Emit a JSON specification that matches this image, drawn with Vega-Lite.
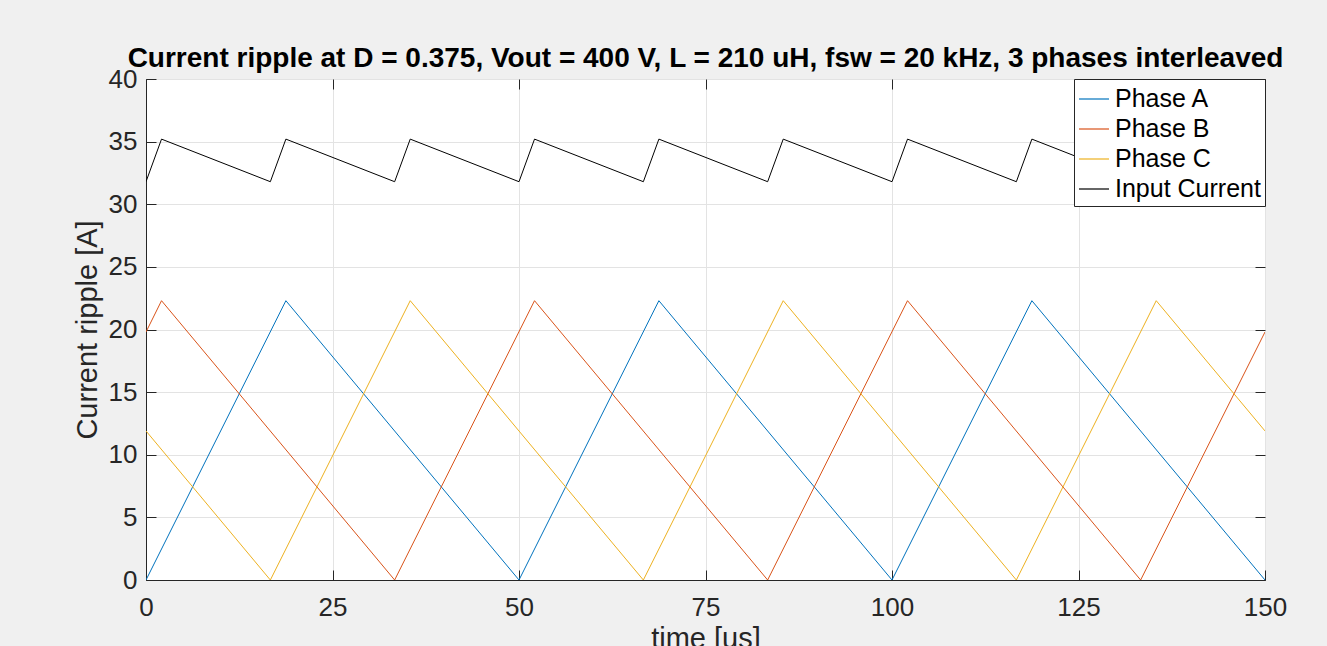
{
  "$schema": "https://vega.github.io/schema/vega-lite/v6.json",
  "width": 1119,
  "height": 501,
  "autosize": {"type": "none"},
  "padding": {"left": 146, "top": 79, "right": 62, "bottom": 66},
  "background": "#f0f0f0",
  "config": {
    "font": "Liberation Sans",
    "view": {"fill": "white", "stroke": "#262626", "strokeWidth": 1},
    "axis": {
      "domainColor": "#262626",
      "tickColor": "#262626",
      "labelColor": "#262626",
      "titleColor": "#262626",
      "labelFont": "Liberation Sans",
      "titleFont": "Liberation Sans",
      "labelFontSize": 26,
      "titleFontSize": 29,
      "titleFontWeight": "normal",
      "gridColor": "#e3e3e3",
      "gridWidth": 1,
      "tickSize": -10,
      "labelFlush": false,
      "labelOverlap": false
    }
  },
  "title": {
    "text": "Current ripple at D = 0.375, Vout = 400 V, L = 210 uH, fsw = 20 kHz, 3 phases interleaved",
    "font": "Liberation Sans",
    "fontSize": 28,
    "fontWeight": "bold",
    "color": "black",
    "anchor": "middle",
    "offset": -7
  },
  "data": {
    "values": [
      {"t": 0, "v": 0, "s": "Phase A"},
      {"t": 18.75, "v": 22.3, "s": "Phase A"},
      {"t": 50, "v": 0, "s": "Phase A"},
      {"t": 68.75, "v": 22.3, "s": "Phase A"},
      {"t": 100, "v": 0, "s": "Phase A"},
      {"t": 118.75, "v": 22.3, "s": "Phase A"},
      {"t": 150, "v": 0, "s": "Phase A"},
      {"t": 0, "v": 19.8, "s": "Phase B"},
      {"t": 2.08, "v": 22.3, "s": "Phase B"},
      {"t": 33.33, "v": 0, "s": "Phase B"},
      {"t": 52.08, "v": 22.3, "s": "Phase B"},
      {"t": 83.33, "v": 0, "s": "Phase B"},
      {"t": 102.08, "v": 22.3, "s": "Phase B"},
      {"t": 133.33, "v": 0, "s": "Phase B"},
      {"t": 150, "v": 19.8, "s": "Phase B"},
      {"t": 0, "v": 11.9, "s": "Phase C"},
      {"t": 16.67, "v": 0, "s": "Phase C"},
      {"t": 35.42, "v": 22.3, "s": "Phase C"},
      {"t": 66.67, "v": 0, "s": "Phase C"},
      {"t": 85.42, "v": 22.3, "s": "Phase C"},
      {"t": 116.67, "v": 0, "s": "Phase C"},
      {"t": 135.42, "v": 22.3, "s": "Phase C"},
      {"t": 150, "v": 11.9, "s": "Phase C"},
      {"t": 0, "v": 31.8, "s": "Input Current"},
      {"t": 2.08, "v": 35.2, "s": "Input Current"},
      {"t": 16.67, "v": 31.8, "s": "Input Current"},
      {"t": 18.75, "v": 35.2, "s": "Input Current"},
      {"t": 33.33, "v": 31.8, "s": "Input Current"},
      {"t": 35.42, "v": 35.2, "s": "Input Current"},
      {"t": 50, "v": 31.8, "s": "Input Current"},
      {"t": 52.08, "v": 35.2, "s": "Input Current"},
      {"t": 66.67, "v": 31.8, "s": "Input Current"},
      {"t": 68.75, "v": 35.2, "s": "Input Current"},
      {"t": 83.33, "v": 31.8, "s": "Input Current"},
      {"t": 85.42, "v": 35.2, "s": "Input Current"},
      {"t": 100, "v": 31.8, "s": "Input Current"},
      {"t": 102.08, "v": 35.2, "s": "Input Current"},
      {"t": 116.67, "v": 31.8, "s": "Input Current"},
      {"t": 118.75, "v": 35.2, "s": "Input Current"},
      {"t": 133.33, "v": 31.8, "s": "Input Current"},
      {"t": 135.42, "v": 35.2, "s": "Input Current"},
      {"t": 150, "v": 31.8, "s": "Input Current"}
    ]
  },
  "layer": [
    {
      "mark": {"type": "line", "strokeWidth": 1, "clip": true},
      "encoding": {
        "x": {
          "field": "t", "type": "quantitative",
          "scale": {"domain": [0, 150], "nice": false, "zero": false},
          "axis": {"title": "time [us]", "values": [0, 25, 50, 75, 100, 125, 150], "labelPadding": 24, "titlePadding": 4}
        },
        "y": {
          "field": "v", "type": "quantitative",
          "scale": {"domain": [0, 40], "nice": false},
          "axis": {"title": "Current ripple [A]", "values": [0, 5, 10, 15, 20, 25, 30, 35, 40], "labelPadding": 19, "titlePadding": 6}
        },
        "color": {
          "field": "s", "type": "nominal",
          "scale": {"domain": ["Phase A", "Phase B", "Phase C", "Input Current"], "range": ["#0072BD", "#D95319", "#EDB120", "#000000"]},
          "sort": ["Phase A", "Phase B", "Phase C", "Input Current"],
          "legend": {
            "title": null,
            "orient": "top-right",
            "offset": 0,
            "symbolType": "stroke",
            "symbolSize": 900,
            "symbolStrokeWidth": 1.2,
            "symbolOpacity": 1,
            "labelFont": "Liberation Sans",
            "labelFontSize": 25,
            "labelColor": "black",
            "labelOffset": 5,
            "rowPadding": 1,
            "padding": 4,
            "strokeColor": "#262626",
            "fillColor": "white",
            "cornerRadius": 0
          }
        }
      }
    },
    {
      "mark": {"type": "point", "opacity": 0},
      "encoding": {
        "x": {
          "field": "t", "type": "quantitative",
          "scale": {"domain": [0, 150], "nice": false, "zero": false},
          "axis": {"orient": "top", "title": null, "labels": false, "grid": false, "domain": false, "values": [0, 25, 50, 75, 100, 125, 150]}
        },
        "y": {
          "field": "v", "type": "quantitative",
          "scale": {"domain": [0, 40], "nice": false},
          "axis": {"orient": "right", "title": null, "labels": false, "grid": false, "domain": false, "values": [0, 5, 10, 15, 20, 25, 30, 35, 40]}
        }
      }
    }
  ],
  "resolve": {"axis": {"x": "independent", "y": "independent"}}
}
